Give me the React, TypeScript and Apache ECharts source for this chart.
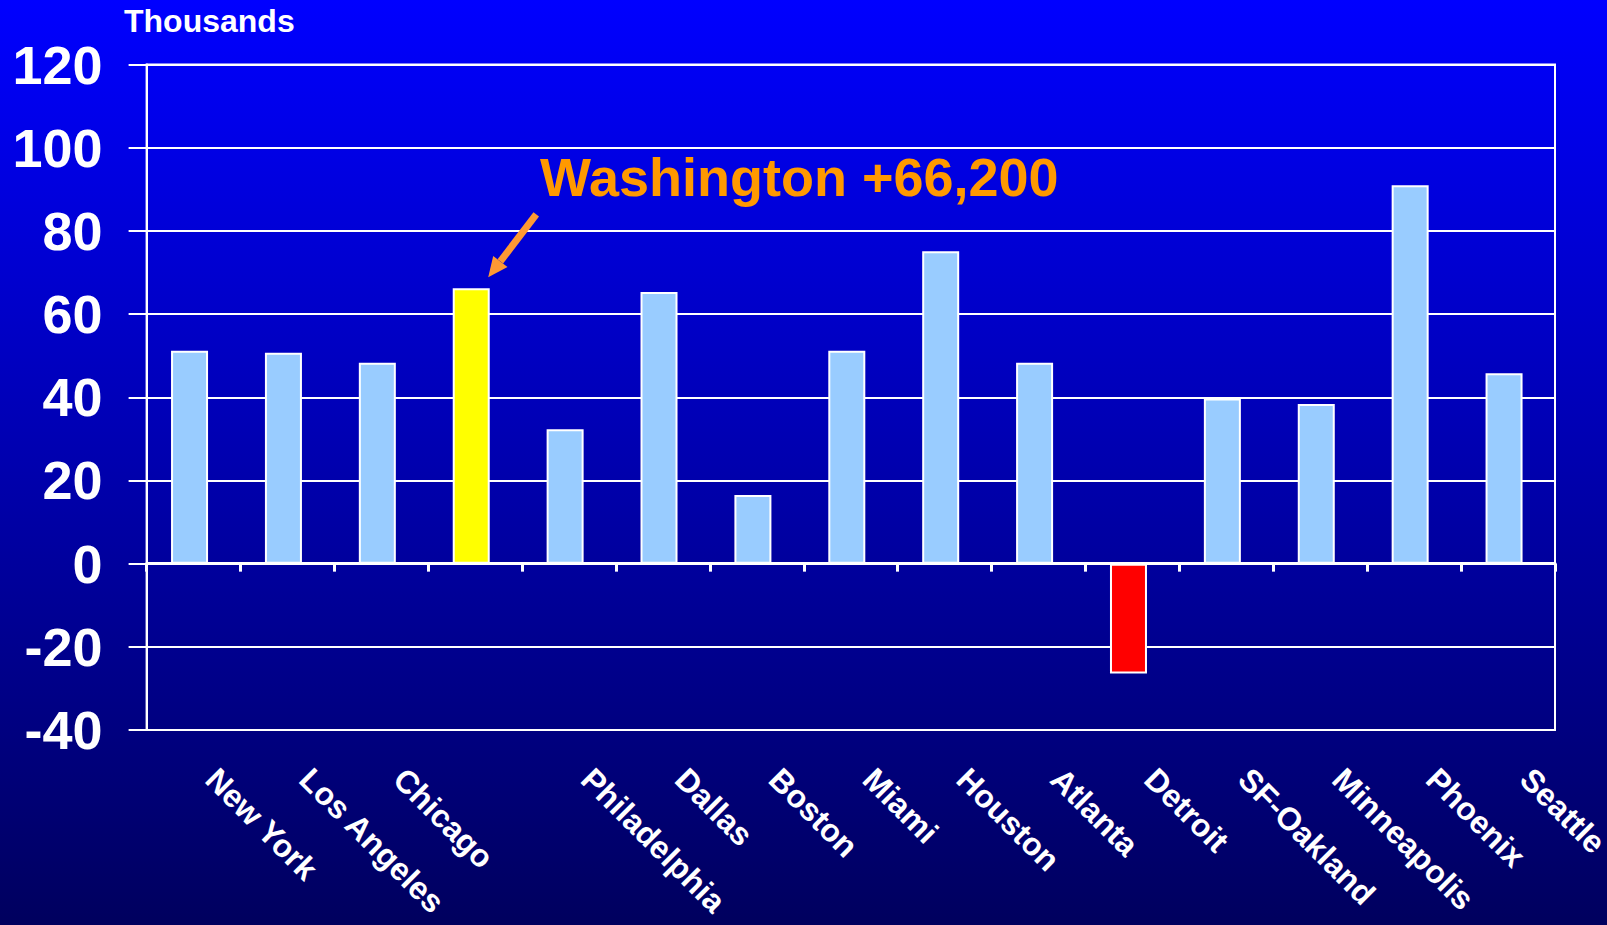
import React, { useEffect, useRef } from "react";
import * as echarts from "echarts";

const categories = [
  "New York", "Los Angeles", "Chicago", "Washington", "Philadelphia", "Dallas", "Boston",
  "Miami", "Houston", "Atlanta", "Detroit", "SF-Oakland", "Minneapolis", "Phoenix", "Seattle",
];
const values = [51.2, 50.7, 48.3, 66.2, 32.3, 65.3, 16.5, 51.2, 75.1, 48.3, -26.4, 39.7, 38.4, 91.0, 45.8];
const highlighted = "Washington";
const yTicks = { min: -40, max: 120, interval: 20 };
const unitLabel = "Thousands";
const calloutText = "Washington +66,200";

const FONT = "'Liberation Sans', Arial, sans-serif";

export default function App() {
  const ref = useRef<HTMLDivElement>(null);
  useEffect(() => {
    if (!ref.current) return;
    const chart = echarts.init(ref.current, null, { renderer: "svg" });
    const data = values.map((v, i) => ({
      value: v,
      itemStyle: {
        color: categories[i] === highlighted ? "#FFFF00" : v < 0 ? "#FF0000" : "#99CCFF",
        borderColor: "#FFFFFF",
        borderWidth: 2,
      },
    }));
    chart.setOption({
      animation: false,
      backgroundColor: new echarts.graphic.LinearGradient(0, 0, 0, 1, [
        { offset: 0, color: "#0000FF" },
        { offset: 1, color: "#00005E" },
      ]),
      grid: {
        left: 146.6, right: 52, top: 64.6, bottom: 195,
        show: true, borderColor: "#FFFFFF", borderWidth: 2,
        containLabel: false,
        outerBoundsMode: "none",
      },
      xAxis: [
        {
          type: "category",
          data: categories,
          axisLine: { onZero: true, lineStyle: { color: "#FFFFFF", width: 3 } },
          axisTick: { show: true, length: 8, lineStyle: { color: "#FFFFFF", width: 3 } },
          axisLabel: { show: false },
        },
        {
          type: "category",
          data: categories,
          position: "bottom",
          axisLine: { show: false, onZero: false },
          axisTick: { show: false },
          axisLabel: {
            show: true,
            interval: 0,
            rotate: -45,
            margin: 26,
            padding: [0, 0, 0, 25],
            color: "#FFFFFF",
            fontFamily: FONT,
            fontWeight: "bold",
            fontSize: 32,
            formatter: (v: string) => (v === highlighted ? "" : v),
          },
        },
      ],
      yAxis: {
        type: "value",
        min: yTicks.min,
        max: yTicks.max,
        interval: yTicks.interval,
        axisLine: { show: true, lineStyle: { color: "#FFFFFF", width: 2 } },
        axisTick: { show: true, length: 18, lineStyle: { color: "#FFFFFF", width: 2 } },
        splitLine: { show: true, lineStyle: { color: "#FFFFFF", width: 2 } },
        axisLabel: {
          color: "#FFFFFF",
          fontFamily: FONT,
          fontWeight: "bold",
          fontSize: 54,
          margin: 44,
        },
      },
      series: [
        {
          type: "bar",
          xAxisIndex: 0,
          yAxisIndex: 0,
          data,
          barWidth: 37,
          barGap: "0%",
        },
        {
          // empty spacer series: nudges the bars slightly left of the band centre, as in the original
          type: "bar",
          xAxisIndex: 0,
          yAxisIndex: 0,
          data: categories.map(() => null),
          barWidth: 8,
          silent: true,
        },
      ],
    });

    const hi = categories.indexOf(highlighted);
    const p = chart.convertToPixel({ xAxisIndex: 0, yAxisIndex: 0 }, [hi, values[hi]]) as number[];
    const cx = p[0] - 4;
    const tip = [cx + 17, p[1] - 11];
    const tail = [cx + 65, p[1] - 74];
    const dx = tip[0] - tail[0], dy = tip[1] - tail[1];
    const len = Math.sqrt(dx * dx + dy * dy);
    const ux = dx / len, uy = dy / len;
    const px = -uy, py = ux;
    const headLen = 20, headW = 9;
    const base = [tip[0] - ux * headLen, tip[1] - uy * headLen];
    chart.setOption({
      graphic: [
        {
          type: "text",
          left: 124,
          top: 5,
          style: { text: unitLabel, fill: "#FFFFFF", font: `bold 32px ${FONT}` },
        },
        {
          type: "text",
          x: 540,
          y: 150,
          style: {
            text: calloutText, fill: "#FF9900", font: `bold 54px ${FONT}`,
            verticalAlign: "top",
          },
        },
        {
          type: "line",
          shape: { x1: tail[0], y1: tail[1], x2: base[0], y2: base[1] },
          style: { stroke: "#FF9933", lineWidth: 7 },
        },
        {
          type: "polygon",
          shape: {
            points: [
              tip,
              [base[0] + px * headW, base[1] + py * headW],
              [base[0] - px * headW, base[1] - py * headW],
            ],
          },
          style: { fill: "#FF9933" },
        },
      ],
    });
    return () => chart.dispose();
  }, []);
  return (
    <div
      ref={ref}
      style={{ position: "absolute", left: 0, top: 0, width: 1607, height: 925 }}
    />
  );
}
